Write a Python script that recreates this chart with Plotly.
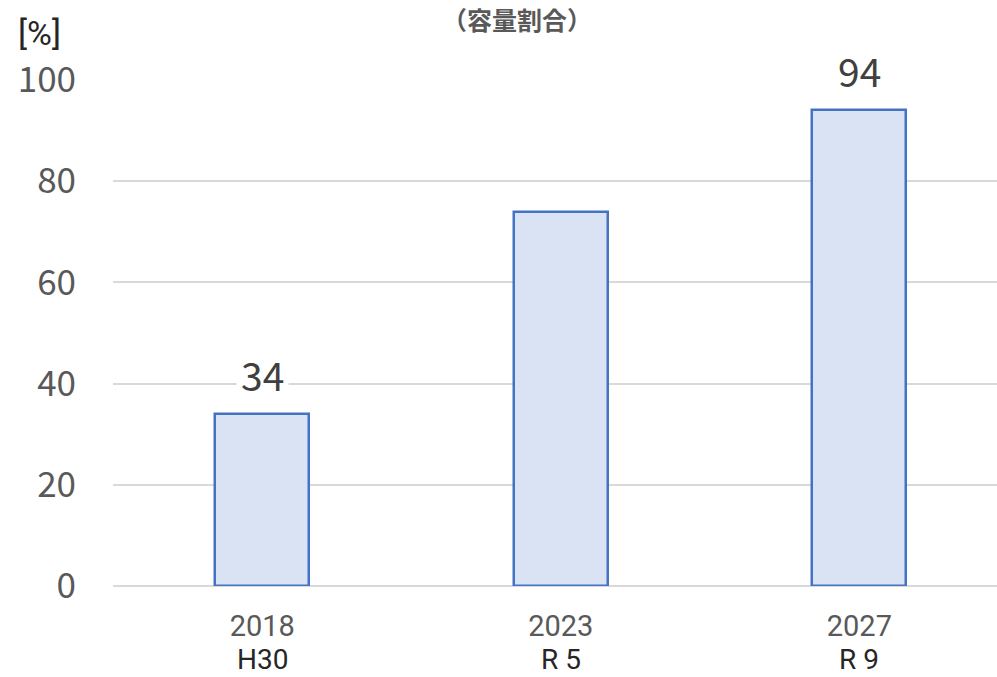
import plotly.graph_objects as go

# Data
years = ["2018", "2023", "2027"]
eras = ["H30", "R 5", "R 9"]
share_pct = [34, 74, 94]
show_label = [True, False, True]
y_ticks = [0, 20, 40, 60, 80, 100]

FONT = "Noto Sans CJK JP, Noto Sans, sans-serif"
CAT_FONT = "Roboto, Noto Sans, sans-serif"
GRID = "#D9D9D9"
TICK_GRAY = "#595959"

fig = go.Figure()
fig.add_trace(go.Bar(
    x=list(range(len(years))),
    y=share_pct,
    width=0.315,
    marker=dict(color="#DAE3F3", line=dict(color="#4472C4", width=2.5)),
    hoverinfo="skip",
))

annotations = []
# value labels above selected bars (white box hides the gridline behind)
for i, (v, show) in enumerate(zip(share_pct, show_label)):
    if show:
        annotations.append(dict(
            x=i, y=v, xref="x", yref="y", text=str(v), showarrow=False,
            yanchor="middle", yshift=40, bgcolor="white", borderpad=4,
            font=dict(family=FONT, size=39, color="#404040"),
        ))
# era names under the year ticks
for i, e in enumerate(eras):
    annotations.append(dict(
        x=i, y=0, xref="x", yref="paper", text=e, showarrow=False,
        yanchor="bottom", yshift=-91, borderpad=0,
        font=dict(family=CAT_FONT, size=28, color="#262626"),
    ))
# unit label and title
annotations.append(dict(
    x=-0.0826, y=(586 - 33) / 506, xref="paper", yref="paper", text="[%]",
    showarrow=False, xanchor="center", yanchor="middle", borderpad=0,
    font=dict(family=CAT_FONT, size=34, color="#262626"),
))
annotations.append(dict(
    x=(517 - 113) / 884, y=(586 - 0) / 506, xref="paper", yref="paper",
    text="<b>（容量割合）</b>", showarrow=False,
    xanchor="center", yanchor="top", borderpad=0,
    font=dict(family=FONT, size=25, color="#595959"),
))

fig.update_layout(
    width=997, height=677,
    margin=dict(l=113, r=0, t=80, b=91),
    paper_bgcolor="white", plot_bgcolor="white",
    showlegend=False,
    annotations=annotations,
    bargap=0,
)
fig.update_xaxes(
    range=[-0.5, 2.461],
    tickvals=list(range(len(years))), ticktext=years,
    tickfont=dict(family=CAT_FONT, size=29, color=TICK_GRAY),
    ticks="", showgrid=False, zeroline=False, showline=False,
    ticklabelstandoff=20,
)
fig.update_yaxes(
    range=[0, 100], tickvals=y_ticks,
    tickfont=dict(family=FONT, size=35, color=TICK_GRAY),
    showgrid=True, gridcolor=GRID, gridwidth=2,
    zeroline=True, zerolinecolor=GRID, zerolinewidth=2,
    showline=False, ticks="", ticklabelstandoff=36,
)

fig.write_html("out.html")
